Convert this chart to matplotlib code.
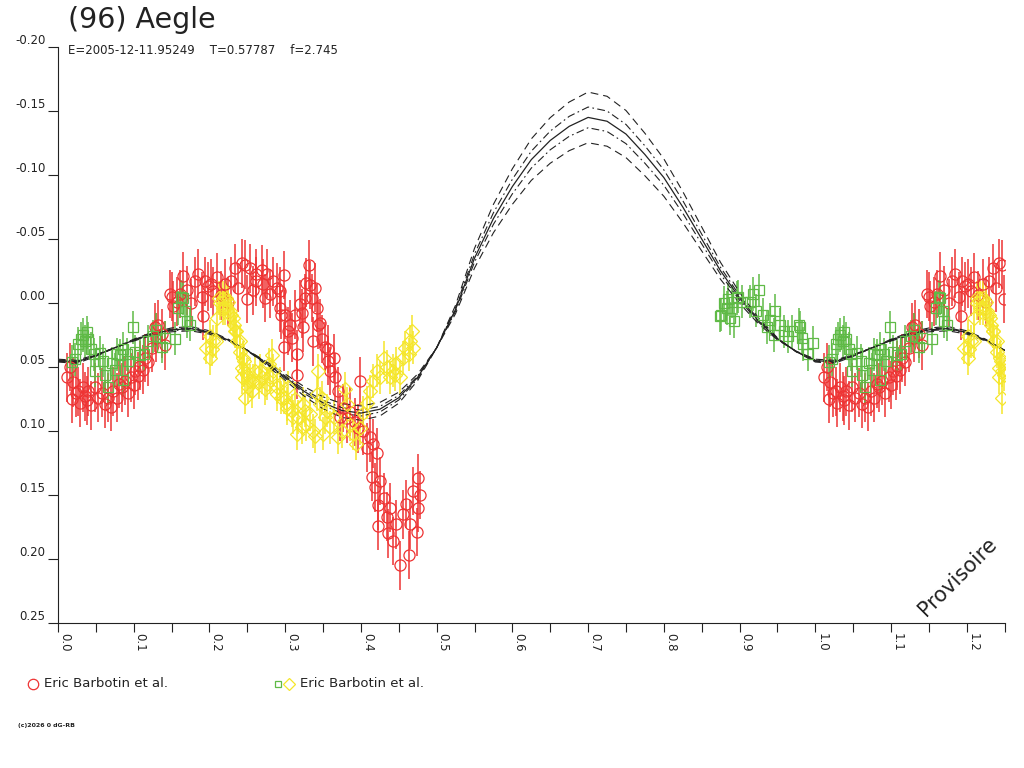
import matplotlib.pyplot as plt
from matplotlib.lines import Line2D
import numpy as np

# --- data (phase, relative magnitude) ---
red_phase = [0.012, 0.016, 0.018, 0.020, 0.024, 0.027, 0.029, 0.033, 0.036, 0.038,
             0.040, 0.044, 0.049, 0.053, 0.058, 0.062, 0.066, 0.070, 0.073, 0.078,
             0.081, 0.084, 0.088, 0.092, 0.097, 0.100, 0.102, 0.106, 0.108, 0.112,
             0.115, 0.119, 0.124, 0.128, 0.130, 0.132, 0.137, 0.141, 0.148, 0.150,
             0.152, 0.157, 0.161, 0.165, 0.170, 0.176, 0.181, 0.185, 0.190, 0.192,
             0.194, 0.198, 0.202, 0.205, 0.210, 0.215, 0.221, 0.225, 0.229, 0.234,
             0.238, 0.243, 0.247, 0.249, 0.254, 0.258, 0.262, 0.262, 0.269, 0.271,
             0.273, 0.276, 0.280, 0.284, 0.289, 0.293, 0.293, 0.295, 0.298, 0.298,
             0.300, 0.304, 0.306, 0.309, 0.313, 0.315, 0.315, 0.320, 0.322, 0.324,
             0.326, 0.328, 0.331, 0.333, 0.335, 0.337, 0.339, 0.342, 0.344, 0.346,
             0.348, 0.353, 0.357, 0.357, 0.359, 0.364, 0.366, 0.370, 0.372, 0.377,
             0.381, 0.386, 0.392, 0.396, 0.399, 0.403, 0.408, 0.412, 0.414, 0.416,
             0.419, 0.421, 0.423, 0.423, 0.425, 0.430, 0.434, 0.436, 0.438, 0.443,
             0.447, 0.452, 0.456, 0.460, 0.463, 0.465, 0.469, 0.474, 0.476, 0.476,
             0.478]
red_mag = [0.058, 0.050, 0.075, 0.062, 0.070, 0.069, 0.078, 0.066, 0.073, 0.076,
           0.069, 0.080, 0.066, 0.074, 0.070, 0.079, 0.074, 0.081, 0.069, 0.074,
           0.063, 0.066, 0.061, 0.070, 0.058, 0.064, 0.053, 0.057, 0.049, 0.052,
           0.043, 0.046, 0.035, 0.019, 0.027, 0.017, 0.024, 0.033, -0.007, -0.005,
           0.002, -0.001, -0.007, -0.021, -0.010, 0.000, -0.017, -0.023, -0.005, 0.010,
           -0.017, -0.013, -0.015, -0.009, -0.020, -0.006, -0.015, -0.001, -0.017, -0.027,
           -0.012, -0.031, -0.030, -0.003, -0.027, -0.010, -0.023, -0.017, -0.026, -0.015,
           -0.004, -0.023, -0.007, -0.017, -0.012, -0.009, 0.004, 0.009, -0.022, 0.034,
           0.009, 0.022, 0.017, 0.027, 0.009, 0.040, 0.056, 0.001, 0.008, 0.019,
           -0.004, -0.016, -0.030, -0.014, -0.004, 0.030, -0.012, 0.004, 0.017, 0.016,
           0.028, 0.034, 0.036, 0.045, 0.053, 0.043, 0.058, 0.069, 0.089, 0.082,
           0.090, 0.085, 0.093, 0.098, 0.061, 0.100, 0.113, 0.105, 0.136, 0.110,
           0.144, 0.117, 0.158, 0.174, 0.139, 0.152, 0.167, 0.180, 0.160, 0.186,
           0.173, 0.205, 0.165, 0.157, 0.197, 0.173, 0.147, 0.179, 0.137, 0.160,
           0.150]

green_phase = [0.018, 0.022, 0.027, 0.030, 0.033, 0.036, 0.038, 0.040, 0.044, 0.047,
               0.049, 0.055, 0.060, 0.062, 0.066, 0.071, 0.075, 0.078, 0.082, 0.086,
               0.086, 0.091, 0.093, 0.099, 0.102, 0.108, 0.113, 0.119, 0.126, 0.130,
               0.137, 0.141, 0.154, 0.159, 0.163, 0.165, 0.168, 0.170, 0.174,
               0.874, 0.876, 0.879, 0.883, 0.885, 0.887, 0.890, 0.892, 0.896, 0.898,
               0.903, 0.914, 0.918, 0.922, 0.925, 0.931, 0.936, 0.940, 0.945, 0.947,
               0.953, 0.958, 0.964, 0.969, 0.978, 0.980, 0.982, 0.984, 0.991, 0.997]
green_mag = [0.046, 0.044, 0.032, 0.028, 0.025, 0.030, 0.023, 0.028, 0.036, 0.040,
             0.053, 0.039, 0.045, 0.056, 0.066, 0.047, 0.052, 0.040, 0.041, 0.036,
             0.060, 0.040, 0.045, 0.019, 0.038, 0.041, 0.040, 0.030, 0.026, 0.021,
             0.034, 0.027, 0.028, 0.004, -0.005, -0.004, 0.006, 0.014, 0.017,
             0.010, 0.009, 0.000, 0.004, -0.003, 0.012, -0.001, 0.014, -0.004, -0.005,
             -0.001, -0.001, -0.007, 0.006, -0.010, 0.009, 0.019, 0.013, 0.025, 0.006,
             0.017, 0.022, 0.026, 0.022, 0.017, 0.019, 0.027, 0.032, 0.040, 0.031]

yellow_phase = [0.196, 0.201, 0.201, 0.203, 0.205, 0.209, 0.210, 0.213, 0.214, 0.218,
                0.218, 0.221, 0.222, 0.225, 0.227, 0.229, 0.231, 0.232, 0.234, 0.235,
                0.236, 0.240, 0.240, 0.243, 0.243, 0.244, 0.245, 0.246, 0.247, 0.249,
                0.251, 0.254, 0.256, 0.258, 0.260, 0.265, 0.267, 0.269, 0.273, 0.276,
                0.278, 0.280, 0.282, 0.284, 0.289, 0.289, 0.293, 0.295, 0.298, 0.302,
                0.302, 0.304, 0.309, 0.311, 0.313, 0.315, 0.317, 0.322, 0.324, 0.326,
                0.328, 0.333, 0.337, 0.339, 0.342, 0.344, 0.346, 0.348, 0.350, 0.353,
                0.355, 0.359, 0.364, 0.370, 0.375, 0.379, 0.381, 0.386, 0.390, 0.394,
                0.399, 0.403, 0.408, 0.412, 0.416, 0.421, 0.425, 0.430, 0.434, 0.438,
                0.443, 0.445, 0.447, 0.452, 0.456, 0.458, 0.463, 0.465, 0.467, 0.469]
yellow_mag = [0.035, 0.026, 0.043, 0.036, 0.030, 0.030, 0.012, -0.004, 0.000, -0.004,
              0.004, 0.004, -0.004, -0.001, 0.006, 0.009, 0.012, 0.017, 0.022, 0.022,
              0.030, 0.038, 0.030, 0.051, 0.058, 0.043, 0.045, 0.053, 0.074, 0.056,
              0.066, 0.061, 0.069, 0.061, 0.053, 0.062, 0.053, 0.058, 0.067, 0.063,
              0.048, 0.058, 0.041, 0.053, 0.071, 0.066, 0.063, 0.074, 0.074, 0.079,
              0.082, 0.066, 0.084, 0.089, 0.075, 0.102, 0.089, 0.097, 0.079, 0.084,
              0.095, 0.087, 0.100, 0.104, 0.071, 0.053, 0.079, 0.074, 0.102, 0.089,
              0.084, 0.097, 0.089, 0.105, 0.100, 0.067, 0.079, 0.095, 0.102, 0.110,
              0.098, 0.086, 0.078, 0.069, 0.061, 0.053, 0.058, 0.043, 0.050, 0.058,
              0.053, 0.056, 0.047, 0.058, 0.043, 0.035, 0.040, 0.030, 0.022, 0.035]

red_err = 0.019
green_err = 0.013
yellow_err = 0.013

# model curve (solid) and the four envelope curves, every 0.025 in phase
model_phase = np.linspace(0.0, 1.0, 41)
model_mid = [0.045, 0.046, 0.041, 0.035, 0.029, 0.024, 0.021, 0.020, 0.023, 0.029,
             0.037, 0.047, 0.058, 0.069, 0.078, 0.084, 0.086, 0.083, 0.074, 0.058,
             0.035, 0.005, -0.035, -0.066, -0.091, -0.112, -0.127, -0.138, -0.145, -0.142,
             -0.132, -0.116, -0.098, -0.075, -0.050, -0.025, -0.004, 0.014, 0.028, 0.038,
             0.045]
model_hi1 = [0.0461, 0.0472, 0.0417, 0.0350, 0.0283, 0.0228, 0.0195, 0.0184, 0.0217, 0.0283,
             0.0372, 0.0483, 0.0605, 0.0727, 0.0827, 0.0894, 0.0916, 0.0883, 0.0783, 0.0605,
             0.0350, 0.0017, -0.0427, -0.0771, -0.1049, -0.1282, -0.1448, -0.1570, -0.1648, -0.1615,
             -0.1504, -0.1326, -0.1126, -0.0871, -0.0594, -0.0316, -0.0083, 0.0117, 0.0272, 0.0383,
             0.0461]
model_hi2 = [0.0455, 0.0465, 0.0413, 0.0350, 0.0287, 0.0235, 0.0204, 0.0193, 0.0225, 0.0287,
             0.0371, 0.0475, 0.0590, 0.0705, 0.0799, 0.0862, 0.0883, 0.0852, 0.0758, 0.0590,
             0.0350, 0.0036, -0.0382, -0.0705, -0.0967, -0.1186, -0.1343, -0.1458, -0.1531, -0.1500,
             -0.1395, -0.1228, -0.1040, -0.0800, -0.0538, -0.0277, -0.0058, 0.0131, 0.0277, 0.0381,
             0.0455]
model_lo2 = [0.0446, 0.0455, 0.0407, 0.0350, 0.0293, 0.0245, 0.0216, 0.0207, 0.0235, 0.0293,
             0.0369, 0.0465, 0.0570, 0.0675, 0.0761, 0.0818, 0.0837, 0.0808, 0.0722, 0.0570,
             0.0350, 0.0064, -0.0319, -0.0615, -0.0853, -0.1054, -0.1197, -0.1302, -0.1369, -0.1340,
             -0.1245, -0.1092, -0.0920, -0.0701, -0.0462, -0.0223, -0.0022, 0.0149, 0.0283, 0.0379,
             0.0446]
model_lo1 = [0.0439, 0.0448, 0.0403, 0.0350, 0.0297, 0.0252, 0.0225, 0.0217, 0.0243, 0.0297,
             0.0368, 0.0457, 0.0555, 0.0653, 0.0733, 0.0786, 0.0804, 0.0777, 0.0697, 0.0555,
             0.0350, 0.0083, -0.0273, -0.0549, -0.0771, -0.0958, -0.1092, -0.1190, -0.1252, -0.1225,
             -0.1136, -0.0994, -0.0834, -0.0629, -0.0407, -0.0184, 0.0003, 0.0163, 0.0288, 0.0377,
             0.0439]

x_ticks = [0.0, 0.1, 0.2, 0.3, 0.4, 0.5, 0.6, 0.7, 0.8, 0.9, 1.0, 1.1, 1.2]
y_ticks = [-0.20, -0.15, -0.10, -0.05, 0.00, 0.05, 0.10, 0.15, 0.20, 0.25]

RED = '#ee3333'
GREEN = '#5fba46'
YELLOW = '#f5e62a'
INK = '#222222'


def wrap(ph, mg):
    # the plot runs to phase 1.25, so the start of the cycle is shown again
    ph = np.asarray(ph)
    mg = np.asarray(mg)
    m = ph < 0.25
    return np.concatenate([ph, ph[m] + 1]), np.concatenate([mg, mg[m]])


fig = plt.figure(figsize=(10.24, 7.68), dpi=100)
ax = fig.add_axes([0.0566, 0.1888, 0.9245, 0.7500])

for ph, mg, err, mk, ms, col in [(red_phase, red_mag, red_err, 'o', 8.0, RED),
                                 (green_phase, green_mag, green_err, 's', 6.5, GREEN),
                                 (yellow_phase, yellow_mag, yellow_err, 'D', 7.0, YELLOW)]:
    x, y = wrap(ph, mg)
    ax.errorbar(x, y, yerr=err, fmt=mk, ms=ms, mfc='none', mec=col, mew=0.9,
                ecolor=col, elinewidth=1.1, capsize=0)

# model curves, one full cycle plus the repeated quarter
ext = slice(1, 11)
mx = np.concatenate([model_phase, model_phase[ext] + 1])
for vals, ls, lw in [(model_hi1, (0, (7, 4.5)), 0.8),
                     (model_hi2, (0, (7, 3, 1.5, 3)), 0.8),
                     (model_mid, '-', 0.9),
                     (model_lo2, (0, (7, 3, 1.5, 3)), 0.8),
                     (model_lo1, (0, (7, 4.5)), 0.8)]:
    v = np.asarray(vals)
    ax.plot(mx, np.concatenate([v, v[ext]]), color=INK, lw=lw, ls=ls)

ax.set_xlim(0, 1.25)
ax.set_ylim(0.25, -0.20)
ax.set_xticks(x_ticks)
ax.set_xticks(np.arange(0.05, 1.26, 0.1), minor=True)
ax.set_xticklabels([f'{t:.1f}' for t in x_ticks], rotation=270, ha='left', va='top')
ax.set_yticks(y_ticks)
ax.set_yticklabels([f'{t:.2f}' for t in y_ticks], va='bottom')
ax.tick_params(axis='x', which='both', direction='out', length=6.5, width=0.8,
               pad=1, labelsize=8.5, colors=INK)
ax.tick_params(axis='y', direction='out', length=7.5, width=0.8, pad=1.5,
               labelsize=8.5, colors=INK)
for s in ['top', 'right']:
    ax.spines[s].set_visible(False)
for s in ['left', 'bottom']:
    ax.spines[s].set_linewidth(0.8)
    ax.spines[s].set_color(INK)

ax.text(0.95, 0.08, 'Provisoire', transform=ax.transAxes, rotation=45,
        ha='center', va='center', fontsize=15, color=INK)

fig.text(0.066, 0.9635, '(96) Aegle', fontsize=20.5, color=INK, va='baseline')
fig.text(0.066, 0.9297, 'E=2005-12-11.95249    T=0.57787    f=2.745',
         fontsize=8.5, color=INK, va='baseline')

# legend below the axis
fig.add_artist(Line2D([0.0322], [0.1094], marker='o', ms=7.5, mfc='none', mec=RED,
                      mew=0.9, transform=fig.transFigure))
fig.text(0.043, 0.1094, 'Eric Barbotin et al.', fontsize=9.5, color=INK, va='center')
fig.add_artist(Line2D([0.2715], [0.1094], marker='s', ms=5.0, mfc='none', mec=GREEN,
                      mew=0.9, transform=fig.transFigure))
fig.add_artist(Line2D([0.2822], [0.1094], marker='D', ms=6.5, mfc='none', mec=YELLOW,
                      mew=0.9, transform=fig.transFigure))
fig.text(0.293, 0.1094, 'Eric Barbotin et al.', fontsize=9.5, color=INK, va='center')

fig.text(0.018, 0.055, '(c)2026 0 dG-RB', fontsize=4.5, color=INK, va='center',
         fontweight='bold')

plt.savefig('out.png', dpi=100)
